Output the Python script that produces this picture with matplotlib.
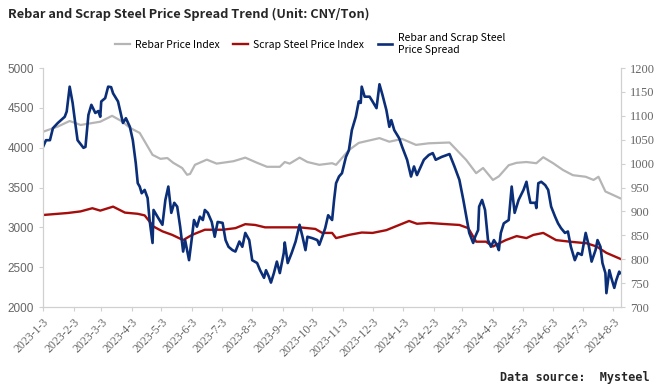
import matplotlib
matplotlib.use('Agg')
import matplotlib.pyplot as plt
import numpy as np
import pandas as pd

start = pd.Timestamp('2023-01-03')

# Rebar price index (left axis), days since 2023-01-03
rebar_days = [0, 15, 27, 38, 58, 70, 80, 88, 98, 111, 119, 126, 132, 141, 146, 149, 154, 166, 176,
              193, 205, 217, 227, 240, 245, 250, 260, 268, 280, 293, 297, 310, 320, 341, 351, 364,
              378, 391, 412, 429, 439, 446, 456, 462, 472, 480, 490, 500, 507, 517, 527, 537, 550,
              558, 563, 570, 578, 585]
rebar_vals = [4200, 4265, 4335, 4285, 4326, 4400, 4330, 4250, 4185, 3910, 3860, 3870, 3810, 3745,
              3660, 3670, 3785, 3850, 3800, 3830, 3875, 3810, 3760, 3760, 3820, 3800, 3875, 3820,
              3785, 3805, 3785, 3970, 4060, 4120, 4075, 4110, 4035, 4055, 4065, 3845, 3680, 3745,
              3595, 3640, 3780, 3810, 3820, 3805, 3880, 3805, 3720, 3655, 3635, 3595, 3635, 3450,
              3405, 3365]

# Scrap steel price index (left axis)
scrap_days = [0, 25, 38, 50, 58, 71, 83, 96, 103, 112, 121, 131, 142, 151, 164, 182, 195, 205, 215,
              225, 260, 276, 283, 293, 297, 310, 323, 334, 348, 361, 371, 379, 391, 409, 422, 431,
              439, 449, 456, 469, 480, 490, 497, 507, 520, 534, 551, 561, 571, 585]
scrap_vals = [3155, 3180, 3200, 3240, 3210, 3260, 3185, 3170, 3150, 3010, 2950, 2905, 2840, 2905,
              2970, 2970, 2990, 3040, 3030, 3000, 3000, 2980, 2930, 2930, 2865, 2905, 2935, 2930,
              2965, 3030, 3080, 3045, 3055, 3040, 3030, 2990, 2820, 2820, 2760, 2840, 2890, 2865,
              2905, 2930, 2840, 2820, 2800, 2760, 2680, 2605]

# Rebar and scrap steel price spread (right axis)
spread_days = [0, 3, 7, 10, 15, 22, 24, 27, 30, 32, 35, 41, 43, 46, 49, 53, 56, 58, 59, 63, 66, 69,
               71, 76, 81, 84, 88, 91, 94, 96, 98, 100, 103, 106, 108, 111, 112, 116, 121, 124, 127,
               130, 133, 136, 139, 142, 144, 148, 151, 153, 156, 159, 162, 164, 167, 171, 174, 177,
               182, 185, 188, 192, 195, 199, 202, 205, 209, 212, 217, 220, 224, 226, 229, 231, 234,
               237, 240, 244, 245, 248, 252, 256, 260, 263, 266, 268, 273, 278, 280, 283, 286, 289,
               293, 295, 297, 300, 303, 307, 310, 313, 317, 320, 322, 323, 326, 331, 334, 338, 341,
               344, 348, 351, 353, 356, 361, 364, 369, 373, 376, 379, 383, 386, 391, 395, 398, 404,
               412, 417, 422, 426, 429, 432, 436, 438, 441, 442, 445, 448, 451, 454, 457, 460, 462,
               464, 467, 472, 475, 478, 482, 487, 490, 492, 494, 499, 500, 502, 505, 509, 512, 515,
               519, 522, 525, 529, 532, 535, 539, 542, 546, 550, 553, 556, 560, 562, 565, 567, 570,
               571, 574, 576, 579, 581, 584, 585]
spread_vals = [1035, 1049, 1049, 1074, 1085, 1098, 1109, 1161, 1127, 1095, 1049, 1033, 1035, 1102,
               1123, 1106, 1110, 1098, 1130, 1137, 1161, 1160, 1147, 1130, 1085, 1095, 1077, 1049,
               1001, 959, 952, 938, 945, 928, 882, 834, 903, 889, 872, 924, 952, 897, 918, 910, 868,
               816, 840, 798, 847, 882, 868, 889, 882, 903, 897, 878, 847, 878, 876, 840, 826, 819,
               816, 837, 826, 855, 840, 798, 792, 777, 761, 777, 763, 751, 771, 795, 771, 813, 835,
               792, 813, 837, 872, 847, 819, 847, 844, 840, 830, 847, 865, 892, 882, 924, 959, 973,
               980, 1014, 1028, 1070, 1098, 1130, 1127, 1161, 1140, 1140, 1130, 1116, 1166, 1144,
               1112, 1077, 1091, 1070, 1053, 1035, 1008, 973, 994, 976, 994, 1008, 1018, 1022, 1008,
               1014, 1020, 994, 966, 924, 889, 855, 834, 847, 861, 910, 924, 903, 840, 826, 840, 830,
               819, 855, 875, 882, 952, 897, 924, 945, 962, 938, 918, 918, 907, 959, 962, 955, 945,
               910, 889, 875, 865, 855, 858, 826, 798, 813, 809, 855, 830, 795, 819, 840, 826, 792,
               771, 729, 777, 761, 740, 756, 774, 771]

tick_labels = ['2023-1-3', '2023-2-3', '2023-3-3', '2023-4-3', '2023-5-3', '2023-6-3', '2023-7-3',
               '2023-8-3', '2023-9-3', '2023-10-3', '2023-11-3', '2023-12-3', '2024-1-3',
               '2024-2-3', '2024-3-3', '2024-4-3', '2024-5-3', '2024-6-3', '2024-7-3', '2024-8-3']

def to_dates(days):
    return start + pd.to_timedelta(days, unit='D')

cjk = ['Noto Sans CJK SC', 'DejaVu Sans']
tick_color = '#666666'
spine_color = '#d0d0d0'

fig = plt.figure(figsize=(6.6, 3.9), dpi=100)
ax = fig.add_axes([0.0652, 0.2128, 0.876, 0.6128])
ax2 = ax.twinx()

l1, = ax.plot(to_dates(rebar_days), rebar_vals, color='#b5b5b5', lw=1.6, label='Rebar Price Index')
l2, = ax.plot(to_dates(scrap_days), scrap_vals, color='#a50d0d', lw=1.7, label='Scrap Steel Price Index')
l3, = ax2.plot(to_dates(spread_days), spread_vals, color='#0b2e78', lw=1.9,
               label='Rebar and Scrap Steel\nPrice Spread')

ax.set_xlim(start, start + pd.Timedelta(days=586))
ax.set_ylim(2000, 5000)
ax.set_yticks(np.arange(2000, 5001, 500))
ax2.set_ylim(700, 1200)
ax2.set_yticks(np.arange(700, 1201, 50))

ticks = [pd.Timestamp(t) for t in tick_labels]
ax.set_xticks(ticks)
ax.set_xticklabels(tick_labels, rotation=45, ha='right', rotation_mode='anchor',
                   family='Liberation Serif', fontsize=8.5, color=tick_color)

for a in (ax, ax2):
    for s in a.spines.values():
        s.set_color(spine_color)
    a.spines['top'].set_visible(False)
    a.tick_params(colors=spine_color, length=3, width=0.8)
for lab in ax.get_yticklabels():
    lab.set_family('Liberation Sans')
    lab.set_fontsize(8.5)
for lab in ax2.get_yticklabels():
    lab.set_family('Liberation Serif')
    lab.set_fontsize(9)
ax.tick_params(axis='x', labelcolor=tick_color)
ax.tick_params(axis='y', labelcolor=tick_color)
ax2.tick_params(axis='y', labelcolor=tick_color)

fig.text(0.012, 0.962, 'Rebar and Scrap Steel Price Spread Trend (Unit: CNY/Ton)',
         family=cjk, fontweight='bold', fontsize=9.2, color='#262626', va='center')

fig.legend(handles=[l1, l2, l3], loc='center', bbox_to_anchor=(0.47, 0.887), ncol=3,
           frameon=False, handlelength=1.4, columnspacing=1.3, handletextpad=0.5,
           prop={'family': cjk, 'size': 7.5})

fig.text(0.985, 0.033, 'Data source:  Mysteel', ha='right', va='center',
         family='DejaVu Sans Mono', fontweight='bold', fontsize=8.5, color='#262626')

fig.savefig('out.png', dpi=100)
